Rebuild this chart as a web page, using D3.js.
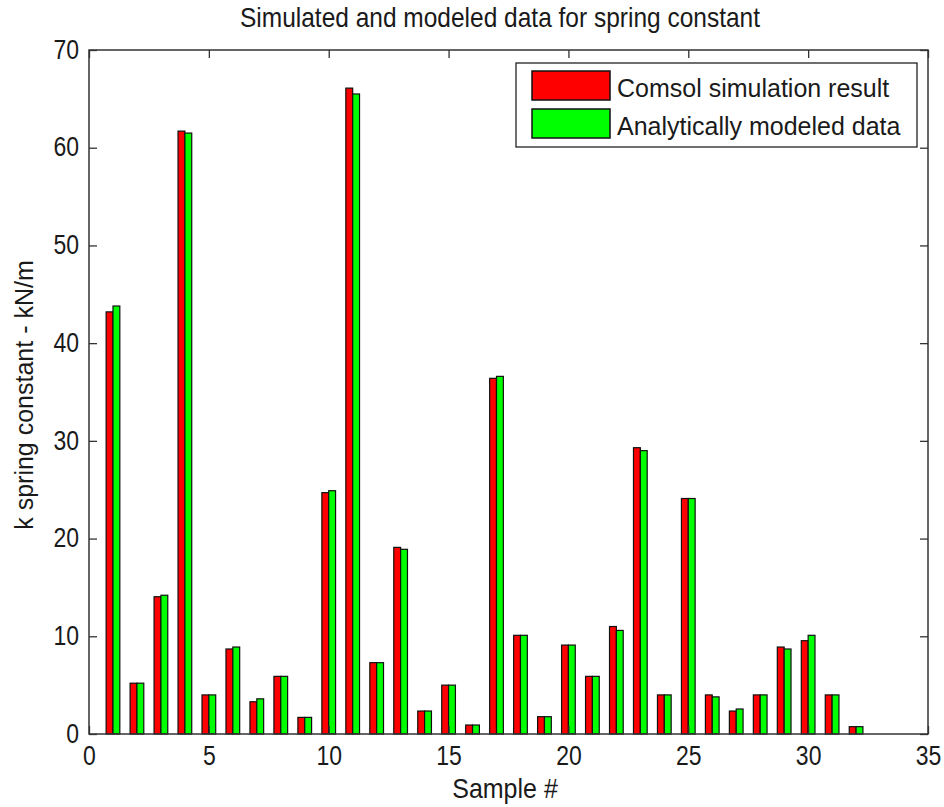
<!DOCTYPE html>
<html>
<head>
<meta charset="utf-8">
<script src="https://cdn.jsdelivr.net/npm/d3@7"></script>
<style>
body { margin: 0; background: #fff; }
text { font-family: "Liberation Sans", Arial, sans-serif; fill: #1a1a1a; }
</style>
</head>
<body>
<script>
// data
var samples = d3.range(1, 33);
var comsol = [43.2, 5.2, 14.05, 61.7, 4.0, 8.7, 3.3, 5.9, 1.7, 24.7,
              66.1, 7.3, 19.1, 2.35, 5.0, 0.92, 36.4, 10.1, 1.77, 9.1,
              5.9, 11.0, 29.3, 4.0, 24.1, 4.0, 2.35, 4.0, 8.9, 9.55,
              4.0, 0.75];
var modeled = [43.8, 5.2, 14.2, 61.5, 4.0, 8.9, 3.6, 5.9, 1.7, 24.9,
               65.5, 7.3, 18.9, 2.35, 5.0, 0.92, 36.6, 10.1, 1.77, 9.1,
               5.9, 10.6, 29.0, 4.0, 24.1, 3.8, 2.56, 4.0, 8.7, 10.1,
               4.0, 0.75];
var seriesNames = ['Comsol simulation result', 'Analytically modeled data'];
var seriesColors = ['#ff0000', '#00ff00'];
var xTicks = [0, 5, 10, 15, 20, 25, 30, 35];
var yTicks = [0, 10, 20, 30, 40, 50, 60, 70];

var W = 944, H = 807;
var pl = 89, pr = 928, pt = 50, pb = 734;

var svg = d3.select('body').append('svg').attr('width', W).attr('height', H);

var x = d3.scaleLinear().domain([0, 35]).range([pl, pr]);
var y = d3.scaleLinear().domain([0, 70]).range([pb, pt]);

// matlab grouped bar: group width 2/3.5 of a unit
var groupW = 2 / 3.5;
var inner = d3.scaleBand().domain([0, 1]).range([-groupW / 2, groupW / 2]).padding(0);

var series = [comsol, modeled];
series.forEach(function (vals, s) {
    svg.append('g').selectAll('rect').data(vals).enter().append('rect')
        .attr('x', function (d, i) { return x(samples[i] + inner(s)); })
        .attr('width', function () { return x(inner.bandwidth()) - x(0); })
        .attr('y', function (d) { return y(d); })
        .attr('height', function (d) { return y(0) - y(d); })
        .attr('fill', seriesColors[s])
        .attr('stroke', '#111')
        .attr('stroke-width', 1.2);
});

// box
svg.append('rect').attr('x', pl).attr('y', pt)
    .attr('width', pr - pl).attr('height', pb - pt)
    .attr('fill', 'none').attr('stroke', '#333').attr('stroke-width', 1.5);

var tickLen = 8;
// axes with inward ticks
var xa = svg.append('g').attr('transform', 'translate(0,' + pb + ')')
    .call(d3.axisBottom(x).tickValues(xTicks).tickSizeInner(-tickLen).tickSizeOuter(0))
    .call(function (g) { g.select('.domain').remove(); });
xa.selectAll('.tick text').attr('y', 0).attr('dy', '0.36em')
    .attr('transform', 'translate(0,21) scale(1,1.2)');
svg.append('g').attr('transform', 'translate(0,' + pt + ')')
    .call(d3.axisTop(x).tickValues(xTicks).tickSizeInner(-tickLen).tickSizeOuter(0).tickFormat(''))
    .call(function (g) { g.select('.domain').remove(); });
var ya = svg.append('g').attr('transform', 'translate(' + pl + ',0)')
    .call(d3.axisLeft(y).tickValues(yTicks).tickSizeInner(-tickLen).tickSizeOuter(0).tickPadding(10))
    .call(function (g) { g.select('.domain').remove(); });
ya.selectAll('.tick text').attr('dy', '0.3em').attr('transform', 'scale(1,1.2)');
svg.append('g').attr('transform', 'translate(' + pr + ',0)')
    .call(d3.axisRight(y).tickValues(yTicks).tickSizeInner(-tickLen).tickSizeOuter(0).tickFormat(''))
    .call(function (g) { g.select('.domain').remove(); });

svg.selectAll('.tick line').attr('stroke', '#333').attr('stroke-width', 1.3);
svg.selectAll('.tick text').style('font-size', '23px').attr('fill', '#1a1a1a')
    .style('font-family', '"Liberation Sans", Arial, sans-serif');

// titles
svg.append('text').attr('transform', 'translate(500,27) scale(1,1.15)').attr('text-anchor', 'middle')
    .style('font-size', '24.5px').text('Simulated and modeled data for spring constant');
svg.append('text').attr('transform', 'translate(505,798) scale(1,1.1)').attr('text-anchor', 'middle')
    .style('font-size', '25px').text('Sample #');
svg.append('text').attr('transform', 'translate(33,395) rotate(-90)').attr('text-anchor', 'middle')
    .style('font-size', '25px').text('k spring constant - kN/m');

// legend
var lg = svg.append('g');
lg.append('rect').attr('x', 516).attr('y', 63).attr('width', 401).attr('height', 84)
    .attr('fill', '#fff').attr('stroke', '#222').attr('stroke-width', 1.3);
seriesNames.forEach(function (name, i) {
    lg.append('rect').attr('x', 532).attr('y', 71 + i * 38).attr('width', 78).attr('height', 29)
        .attr('fill', seriesColors[i]).attr('stroke', '#111').attr('stroke-width', 1.5);
    lg.append('text').attr('transform', 'translate(617,' + (97 + i * 38) + ') scale(1,1.05)')
        .style('font-size', '25px').text(name);
});
</script>
</body>
</html>
